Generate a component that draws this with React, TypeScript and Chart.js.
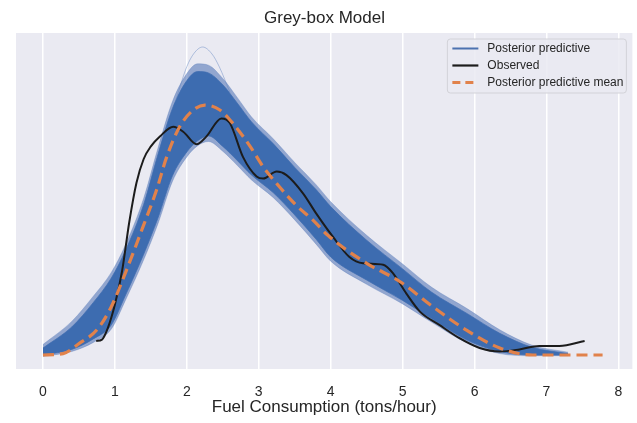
import React, { useEffect, useRef } from 'react';
import { Chart, registerables } from 'chart.js';

Chart.register(...registerables);

const TITLE = 'Grey-box Model';
const X_LABEL = 'Fuel Consumption (tons/hour)';
const X_TICKS = [0, 1, 2, 3, 4, 5, 6, 7, 8];
const X_TICK_LABELS = ['0', '1', '2', '3', '4', '5', '6', '7', '8'];
const LEGEND_LABELS = ['Posterior predictive', 'Observed', 'Posterior predictive mean'];

// Posterior predictive band (dense core and faint outer wisps)
const BAND_X = [0, 0.4, 0.7, 0.95, 1.15, 1.4, 1.6, 1.8, 2.0, 2.15, 2.3, 2.5, 2.7, 2.9, 3.2, 3.5, 3.8, 4.0, 4.5, 5.0, 5.4, 5.9, 6.35, 6.8, 7.3];
const BAND_UPPER = [0.010, 0.040, 0.075, 0.110, 0.150, 0.215, 0.287, 0.352, 0.392, 0.405, 0.403, 0.386, 0.360, 0.333, 0.302, 0.268, 0.236, 0.212, 0.164, 0.123, 0.090, 0.059, 0.031, 0.011, 0.002];
const BAND_LOWER = [0.000, 0.008, 0.023, 0.043, 0.086, 0.144, 0.196, 0.256, 0.290, 0.306, 0.313, 0.298, 0.278, 0.257, 0.232, 0.200, 0.165, 0.140, 0.107, 0.078, 0.052, 0.021, 0.005, 0.000, 0.000];
const OUTER_UPPER = [0.015, 0.048, 0.084, 0.118, 0.158, 0.224, 0.296, 0.362, 0.402, 0.416, 0.414, 0.395, 0.368, 0.340, 0.309, 0.275, 0.243, 0.219, 0.171, 0.130, 0.097, 0.066, 0.036, 0.014, 0.004];
const OUTER_LOWER = [-0.002, 0.005, 0.018, 0.037, 0.079, 0.136, 0.188, 0.248, 0.283, 0.299, 0.305, 0.291, 0.271, 0.250, 0.225, 0.193, 0.158, 0.134, 0.101, 0.073, 0.047, 0.017, 0.002, -0.001, -0.001];

// Single extreme posterior predictive draw (the tall spike)
const SPIKE_X = [1.85, 2.0, 2.1, 2.22, 2.35, 2.45, 2.6];
const SPIKE_Y = [0.365, 0.412, 0.431, 0.440, 0.430, 0.412, 0.375];

// Posterior predictive mean
const MEAN_X = [0, 0.28, 0.51, 0.75, 0.95, 1.16, 1.39, 1.58, 1.72, 1.9, 2.09, 2.25, 2.46, 2.64, 2.88, 3.06, 3.29, 3.52, 3.75, 3.96, 4.5, 4.96, 5.42, 5.88, 6.35, 6.81, 7.78];
const MEAN_Y = [0.000, 0.002, 0.017, 0.036, 0.069, 0.121, 0.183, 0.236, 0.283, 0.326, 0.350, 0.357, 0.350, 0.331, 0.298, 0.269, 0.240, 0.214, 0.193, 0.171, 0.131, 0.105, 0.069, 0.036, 0.010, 0.000, 0.000];

// Observed
const OBS_X = [0.74, 0.82, 0.9, 1.0, 1.1, 1.2, 1.3, 1.4, 1.5, 1.625, 1.81, 1.95, 2.135, 2.27, 2.48, 2.6, 2.78, 2.97, 3.06, 3.25, 3.385, 3.615, 3.8, 4.03, 4.26, 4.45, 4.73, 4.865, 5.05, 5.24, 5.51, 5.79, 6.07, 6.35, 6.625, 6.9, 7.18, 7.53];
const OBS_Y = [0.020, 0.022, 0.038, 0.072, 0.120, 0.190, 0.246, 0.280, 0.298, 0.312, 0.326, 0.319, 0.301, 0.312, 0.338, 0.331, 0.283, 0.255, 0.252, 0.262, 0.257, 0.231, 0.202, 0.169, 0.140, 0.131, 0.129, 0.117, 0.088, 0.062, 0.043, 0.024, 0.010, 0.005, 0.008, 0.013, 0.013, 0.020];

const X_MIN = -0.375;
const X_MAX = 8.194;
const Y_MIN = -0.02;
const Y_MAX = 0.46;

const FONT = "'Liberation Sans', Arial, Helvetica, sans-serif";
const TEXT_COLOR = '#262626';
const BG = '#EAEAF2';
const BLUE_CORE = '#3D6CB0';
const BLUE_LEGEND = '#4C72B0';
const ORANGE = '#E1824B';
const BLACK = '#1C1C1C';

const zip = (xs: number[], ys: number[]) => xs.map((x, i) => ({ x, y: ys[i] }));

const bgPlugin = {
  id: 'plotBg',
  beforeDraw(chart: any) {
    const { ctx, chartArea } = chart;
    ctx.save();
    ctx.fillStyle = BG;
    ctx.fillRect(chartArea.left, chartArea.top, chartArea.right - chartArea.left, chartArea.bottom - chartArea.top);
    ctx.restore();
  },
};

const legendPlugin = {
  id: 'boxLegend',
  afterDraw(chart: any) {
    const { ctx, chartArea } = chart;
    const w = 179;
    const h = 54;
    const x0 = chartArea.right - 6 - w;
    const y0 = chartArea.top + 6;
    ctx.save();
    ctx.beginPath();
    const r = 3;
    ctx.moveTo(x0 + r, y0);
    ctx.lineTo(x0 + w - r, y0);
    ctx.arcTo(x0 + w, y0, x0 + w, y0 + r, r);
    ctx.lineTo(x0 + w, y0 + h - r);
    ctx.arcTo(x0 + w, y0 + h, x0 + w - r, y0 + h, r);
    ctx.lineTo(x0 + r, y0 + h);
    ctx.arcTo(x0, y0 + h, x0, y0 + h - r, r);
    ctx.lineTo(x0, y0 + r);
    ctx.arcTo(x0, y0, x0 + r, y0, r);
    ctx.closePath();
    ctx.fillStyle = 'rgba(234,234,242,0.85)';
    ctx.fill();
    ctx.strokeStyle = '#D2D2D8';
    ctx.lineWidth = 1;
    ctx.stroke();

    const styles = [
      { color: BLUE_LEGEND, width: 2, dash: [] as number[] },
      { color: BLACK, width: 2.2, dash: [] as number[] },
      { color: ORANGE, width: 3, dash: [8, 5] },
    ];
    ctx.font = `12px ${FONT}`;
    ctx.textBaseline = 'middle';
    ctx.textAlign = 'left';
    LEGEND_LABELS.forEach((label, i) => {
      const y = y0 + 9.5 + i * 17;
      const s = styles[i];
      ctx.beginPath();
      ctx.setLineDash(s.dash);
      ctx.strokeStyle = s.color;
      ctx.lineWidth = s.width;
      ctx.lineCap = 'butt';
      ctx.moveTo(x0 + 5, y);
      ctx.lineTo(x0 + 31, y);
      ctx.stroke();
      ctx.setLineDash([]);
      ctx.fillStyle = TEXT_COLOR;
      ctx.fillText(label, x0 + 40, y);
    });
    ctx.restore();
  },
};

export default function App() {
  const ref = useRef<HTMLCanvasElement | null>(null);

  useEffect(() => {
    if (!ref.current) return;
    const chart = new Chart(ref.current, {
      type: 'line',
      data: {
        datasets: [
          {
            label: 'Posterior predictive mean',
            data: zip(MEAN_X, MEAN_Y),
            borderColor: ORANGE,
            borderWidth: 3.2,
            borderDash: [11, 6],
            borderCapStyle: 'butt',
            pointRadius: 0,
            cubicInterpolationMode: 'monotone',
            fill: false,
          },
          {
            label: 'Observed',
            data: zip(OBS_X, OBS_Y),
            borderColor: BLACK,
            borderWidth: 2,
            pointRadius: 0,
            cubicInterpolationMode: 'monotone',
            fill: false,
          },
          {
            label: 'spike',
            data: zip(SPIKE_X, SPIKE_Y),
            borderColor: 'rgba(95,130,190,0.45)',
            borderWidth: 1,
            pointRadius: 0,
            cubicInterpolationMode: 'monotone',
            fill: false,
          },
          {
            label: 'Posterior predictive',
            data: zip(BAND_X, BAND_UPPER),
            borderColor: 'rgba(62,108,176,0.7)',
            borderWidth: 1,
            backgroundColor: BLUE_CORE,
            pointRadius: 0,
            cubicInterpolationMode: 'monotone',
            fill: '+1',
          },
          {
            label: 'band lower',
            data: zip(BAND_X, BAND_LOWER),
            borderColor: 'rgba(62,108,176,0.7)',
            borderWidth: 1,
            pointRadius: 0,
            cubicInterpolationMode: 'monotone',
            fill: false,
          },
          {
            label: 'outer upper',
            data: zip(BAND_X, OUTER_UPPER),
            borderColor: 'rgba(95,130,190,0.35)',
            borderWidth: 1,
            backgroundColor: 'rgba(72,110,178,0.55)',
            pointRadius: 0,
            cubicInterpolationMode: 'monotone',
            fill: '+1',
          },
          {
            label: 'outer lower',
            data: zip(BAND_X, OUTER_LOWER),
            borderColor: 'rgba(95,130,190,0.35)',
            borderWidth: 1,
            pointRadius: 0,
            cubicInterpolationMode: 'monotone',
            fill: false,
          },
        ],
      },
      options: {
        responsive: false,
        animation: false,
        events: [],
        layout: { padding: { left: 16, right: 4, top: 0, bottom: 0 } },
        plugins: {
          legend: { display: false },
          tooltip: { enabled: false },
          title: {
            display: true,
            text: TITLE,
            color: TEXT_COLOR,
            font: { family: FONT, size: 17, weight: 'normal', lineHeight: 1.2 },
            padding: { top: 8.3, bottom: 4.3 },
          },
        },
        scales: {
          x: {
            type: 'linear',
            min: X_MIN,
            max: X_MAX,
            afterBuildTicks: (scale: any) => {
              scale.ticks = X_TICKS.map((v) => ({ value: v }));
            },
            afterFit: (scale: any) => {
              scale.height = 54;
            },
            ticks: {
              color: TEXT_COLOR,
              font: { family: FONT, size: 14, lineHeight: 1.2 },
              padding: 14.6,
              maxRotation: 0,
              autoSkip: false,
              callback: (value: any) => {
                const i = X_TICKS.indexOf(Number(value));
                return i >= 0 ? X_TICK_LABELS[i] : '';
              },
            },
            grid: { color: '#FFFFFF', lineWidth: 1.5, drawTicks: false },
            border: { display: false },
            title: {
              display: true,
              text: X_LABEL,
              color: TEXT_COLOR,
              font: { family: FONT, size: 17, lineHeight: 1.2 },
              padding: { top: 0, bottom: 5.3 },
            },
          },
          y: {
            type: 'linear',
            display: false,
            min: Y_MIN,
            max: Y_MAX,
          },
        },
      },
      plugins: [bgPlugin, legendPlugin],
    } as any);
    return () => chart.destroy();
  }, []);

  return (
    <div style={{ position: 'fixed', left: 0, top: 0, width: 637, height: 423, background: '#FFFFFF' }}>
      <canvas ref={ref} width={637} height={423} style={{ width: 637, height: 423, display: 'block' }} />
    </div>
  );
}
